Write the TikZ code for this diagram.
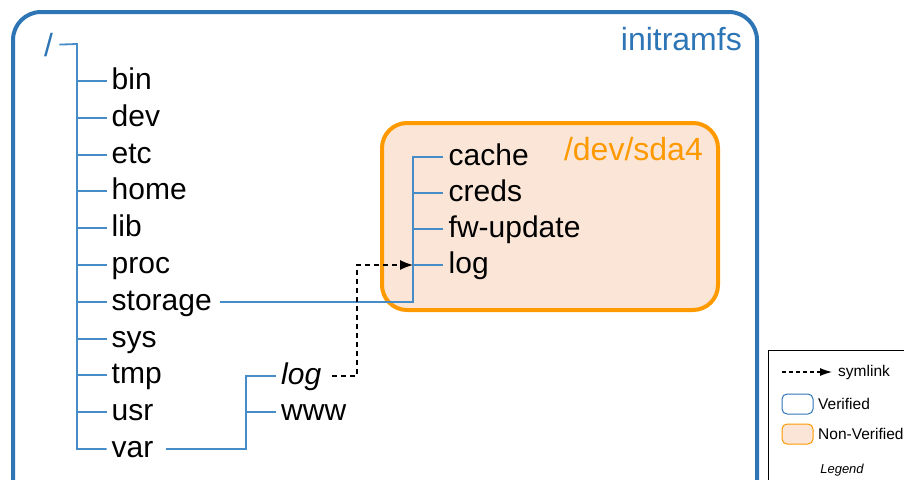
\documentclass[tikz,border=0pt]{standalone}
\usepackage{fontspec}
\setmainfont{Liberation Sans}
\usetikzlibrary{arrows.meta}
\definecolor{vblue}{RGB}{46,117,182}
\definecolor{lblue}{RGB}{70,140,200}
\definecolor{nvorange}{RGB}{255,153,0}
\definecolor{nvfill}{RGB}{251,229,214}
\begin{document}
\begin{tikzpicture}[x=1pt,y=-1pt,
  item/.style={anchor=base west, inner sep=0pt, font=\fontsize{30}{36}\selectfont},
  tree/.style={draw=lblue, line width=1.8pt},
  sym/.style={draw=black, line width=1.3pt, dash pattern=on 5pt off 4pt, -{Latex[length=13pt,width=10pt]}},
  legtext/.style={anchor=base west, inner sep=0pt, font=\fontsize{15.5}{18}\selectfont}]
\useasboundingbox (0,0) rectangle (904,479);
\clip (0,0) rectangle (904,479);
% initramfs box
\draw[vblue, line width=4pt, rounded corners=28pt] (13,12) rectangle (757,530);
\node[anchor=base east, inner sep=0pt, text=vblue, font=\fontsize{32}{38}\selectfont] (ttl) at (742,50) {initramfs};
% /dev/sda4 box
\draw[nvorange, fill=nvfill, line width=4pt, rounded corners=25pt] (382,123) rectangle (718,310);
\node[anchor=base east, inner sep=0pt, text=nvorange, font=\fontsize{32}{38}\selectfont] (sda) at (703,160) {/dev/sda4};
% root
\node[anchor=west, inner sep=0pt, text=vblue, font=\fontsize{32}{38}\selectfont] (root) at (44,44.6) {/};
% main items (baseline = branch y + 8)
\node[item] (bin) at (111.5,89) {bin};
\node[item] (dev) at (111.5,126) {dev};
\node[item] (etc) at (111.5,163) {etc};
\node[item] (home) at (111.5,199) {home};
\node[item] (lib) at (111.5,236) {lib};
\node[item] (proc) at (111.5,273) {proc};
\node[item] (storage) at (111.5,310) {storage};
\node[item] (sys) at (111.5,347) {sys};
\node[item] (tmp) at (111.5,383) {tmp};
\node[item] (usr) at (111.5,420) {usr};
\node[item] (var) at (111.5,457) {var};
% storage items
\node[item] (cache) at (448.5,165) {cache};
\node[item] (creds) at (448.5,201) {creds};
\node[item] (fw) at (448.5,237) {fw-update};
\node[item] (slog) at (448.5,273) {log};
% var items
\node[item, font=\fontsize{30}{36}\selectfont\itshape] (vlog) at (281,384) {log};
\node[item] (www) at (281,420) {www};
% branch end points
\foreach \n in {bin,dev,etc,home,lib,proc,storage,sys,tmp,usr,var,vlog,www}
  \coordinate (\n-b) at ([shift={(-5pt,8pt)}]\n.base west);
\foreach \n in {cache,creds,fw,slog}
  \coordinate (\n-b) at ([shift={(-5.5pt,8pt)}]\n.base west);
% spines
\coordinate (spine) at (77,44);
\coordinate (dspine) at (413,0);
\coordinate (vspine) at (246,0);
\coordinate (hop) at (357,0);
% root tree
\draw[tree] ([xshift=6pt]root.east) -- (spine) |- (var-b);
\foreach \n in {bin,dev,etc,home,lib,proc,storage,sys,tmp,usr}
  \draw[tree] (spine |- \n-b) -- (\n-b);
% storage tree
\draw[tree] ([shift={(8pt,8pt)}]storage.base east) -| (dspine |- cache-b) -- (cache-b);
\foreach \n in {creds,fw,slog}
  \draw[tree] (dspine |- \n-b) -- (\n-b);
% var tree
\draw[tree] ([shift={(12pt,8pt)}]var.base east) -| (vspine |- vlog-b) -- (vlog-b);
\draw[tree] (vspine |- www-b) -- (www-b);
% symlink
\draw[sym] ([shift={(11pt,8pt)}]vlog.base east) -| (hop |- slog-b) -- (dspine |- slog-b);
% legend
\draw[black, line width=1pt] (768,350) rectangle (930,520);
\coordinate (la) at (782,372);
\node[legtext] (lsym) at (838,376) {symlink};
\draw[sym, line width=1.1pt, dash pattern=on 4pt off 3pt, -{Latex[length=12pt,width=8pt]}] (la) -- ([shift={(-6pt,4pt)}]lsym.base west);
\node[draw=vblue, line width=1pt, rounded corners=5pt, minimum width=31pt, minimum height=20pt, inner sep=0pt] (lver) at (797.5,404) {};
\node[legtext] (tver) at (818,409.5) {Verified};
\node[draw=nvorange, fill=nvfill, line width=1pt, rounded corners=5pt, minimum width=31pt, minimum height=20pt, inner sep=0pt] (lnv) at (797.5,434) {};
\node[legtext] (tnv) at (818,439.5) {Non-Verified};
\node[inner sep=0pt, font=\fontsize{13}{15}\selectfont\itshape] (leg) at (842,470) {Legend};
\end{tikzpicture}
\end{document}
